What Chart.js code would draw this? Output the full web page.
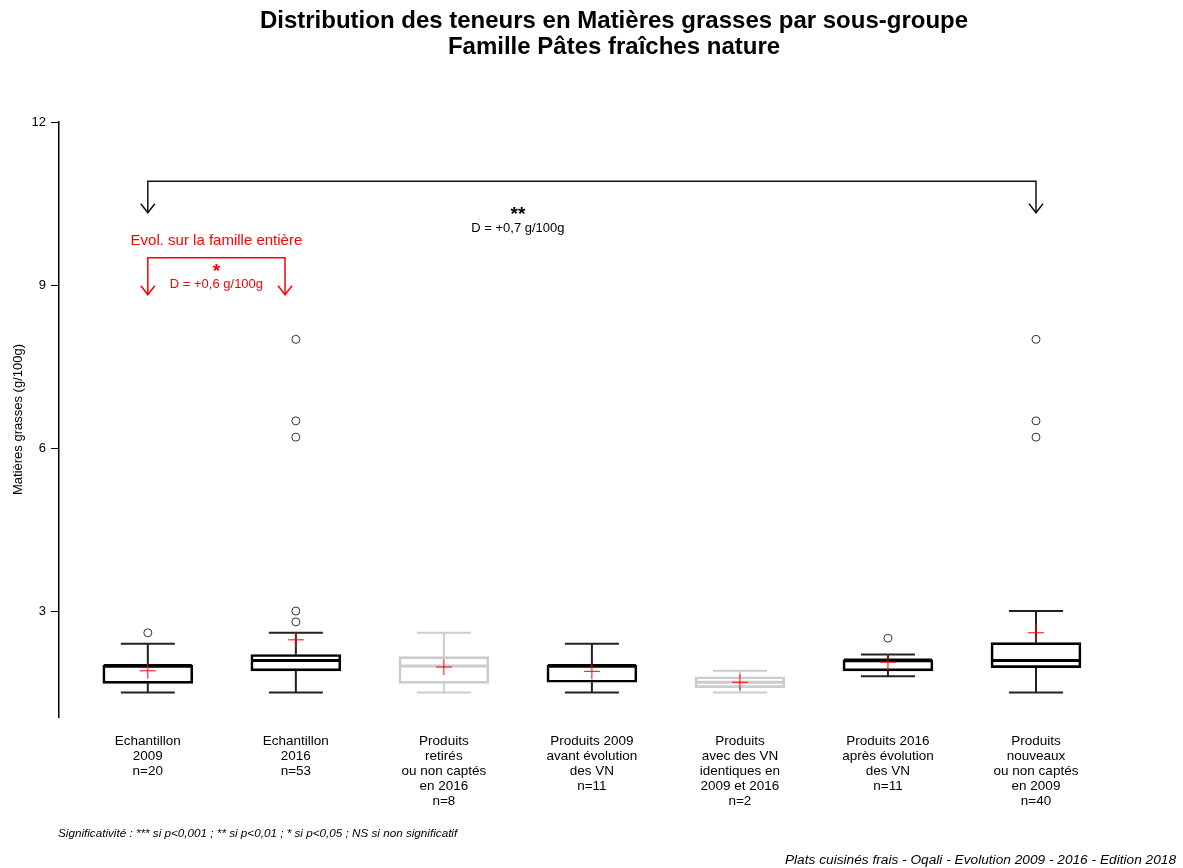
<!DOCTYPE html>
<html>
<head>
<meta charset="utf-8">
<script src="https://cdn.jsdelivr.net/npm/chart.js@4.4.1/dist/chart.umd.min.js"></script>
<style>
  html, body { margin: 0; padding: 0; background: #fff; }
  #wrap { width: 1183px; height: 868px; position: relative; }
</style>
</head>
<body>
<div id="wrap"><canvas id="c"></canvas></div>
<script>
// ---------------- DATA ----------------
const titleLines = ['Distribution des teneurs en Matières grasses par sous-groupe', 'Famille Pâtes fraîches nature'];
const yAxisTitle = 'Matières grasses (g/100g)';
const yTicks = [3, 6, 9, 12];
const categories = [
  ['Echantillon', '2009', 'n=20'],
  ['Echantillon', '2016', 'n=53'],
  ['Produits', 'retirés', 'ou non captés', 'en 2016', 'n=8'],
  ['Produits 2009', 'avant évolution', 'des VN', 'n=11'],
  ['Produits', 'avec des VN', 'identiques en', '2009 et 2016', 'n=2'],
  ['Produits 2016', 'après évolution', 'des VN', 'n=11'],
  ['Produits', 'nouveaux', 'ou non captés', 'en 2009', 'n=40']
];
const whiskerLow  = [1.5, 1.5, 1.5, 1.5, 1.5, 1.8, 1.5];
const q1          = [1.67, 1.9, 1.67, 1.69, 1.59, 1.9, 1.96];
const median      = [2.0, 2.09, 1.99, 2.0, 1.69, 2.1, 2.09];
const q3          = [2.0, 2.2, 2.16, 2.0, 1.79, 2.1, 2.42];
const whiskerHigh = [2.4, 2.6, 2.6, 2.4, 1.9, 2.2, 3.0];
const means       = [1.9, 2.47, 1.97, 1.89, 1.69, 2.06, 2.6];
const outliers    = [[2.6], [2.8, 3.0, 6.2, 6.5, 8.0], [], [], [], [2.5], [6.2, 6.5, 8.0]];
const globalTest = { stars: '**', text: 'D = +0,7 g/100g' };
const familyTest = { label: 'Evol. sur la famille entière', stars: '*', text: 'D = +0,6 g/100g' };
const footnote = 'Significativité : *** si p<0,001 ; ** si p<0,01 ; * si p<0,05 ; NS si non significatif';
const sourceNote = 'Plats cuisinés frais - Oqali - Evolution 2009 - 2016 - Edition 2018';

// ---------------- STYLE ----------------
const FONT = '"Liberation Sans", Arial, Helvetica, sans-serif';
const boxColors = ['#000000', '#000000', '#cccccc', '#000000', '#cccccc', '#000000', '#000000'];
const whiskerColors = ['#222222', '#222222', '#cccccc', '#222222', '#cccccc', '#222222', '#222222'];

const boxPlugin = {
  id: 'boxParts',
  beforeDatasetsDraw(chart) {
    const ctx = chart.ctx, xs = chart.scales.x, ys = chart.scales.y;
    ctx.save();
    categories.forEach((c, i) => {
      const x = xs.getPixelForValue(i + 1);
      const half = 27;
      ctx.strokeStyle = whiskerColors[i];
      ctx.lineWidth = 2;
      ctx.beginPath();
      ctx.moveTo(x, ys.getPixelForValue(q3[i]));
      ctx.lineTo(x, ys.getPixelForValue(whiskerHigh[i]));
      ctx.moveTo(x, ys.getPixelForValue(q1[i]));
      ctx.lineTo(x, ys.getPixelForValue(whiskerLow[i]));
      ctx.moveTo(x - half, ys.getPixelForValue(whiskerHigh[i]));
      ctx.lineTo(x + half, ys.getPixelForValue(whiskerHigh[i]));
      ctx.moveTo(x - half, ys.getPixelForValue(whiskerLow[i]));
      ctx.lineTo(x + half, ys.getPixelForValue(whiskerLow[i]));
      ctx.stroke();
    });
    ctx.restore();
  },
  afterDatasetDraw(chart, args) {
    if (args.index !== 0) return;
    const ctx = chart.ctx, xs = chart.scales.x, ys = chart.scales.y;
    ctx.save();
    categories.forEach((c, i) => {
      const x = xs.getPixelForValue(i + 1);
      const y = ys.getPixelForValue(median[i]);
      ctx.strokeStyle = boxColors[i];
      ctx.lineWidth = 3;
      ctx.beginPath();
      ctx.moveTo(x - 44, y);
      ctx.lineTo(x + 44, y);
      ctx.stroke();
    });
    ctx.restore();
  },
  afterDraw(chart) {
    const ctx = chart.ctx, xs = chart.scales.x, ys = chart.scales.y;
    ctx.save();
    const arrowDown = (x, y, col) => {
      ctx.strokeStyle = col;
      ctx.beginPath();
      ctx.moveTo(x - 7, y - 9);
      ctx.lineTo(x, y);
      ctx.lineTo(x + 7, y - 9);
      ctx.stroke();
    };
    // global bracket (black)
    const gx1 = xs.getPixelForValue(1), gx2 = xs.getPixelForValue(7);
    const gy = ys.getPixelForValue(10.91), gyb = ys.getPixelForValue(10.33);
    ctx.lineWidth = 1.5;
    ctx.strokeStyle = '#111';
    ctx.beginPath();
    ctx.moveTo(gx1, gyb); ctx.lineTo(gx1, gy); ctx.lineTo(gx2, gy); ctx.lineTo(gx2, gyb);
    ctx.stroke();
    arrowDown(gx1, gyb, '#111');
    arrowDown(gx2, gyb, '#111');
    ctx.fillStyle = '#000';
    ctx.textAlign = 'center';
    ctx.textBaseline = 'middle';
    const gtx = xs.getPixelForValue(3.5);
    ctx.font = 'bold 19px ' + FONT;
    ctx.fillText(globalTest.stars, gtx, ys.getPixelForValue(10.3));
    ctx.font = '13px ' + FONT;
    ctx.fillText(globalTest.text, gtx, ys.getPixelForValue(10.05));

    // family bracket (red)
    const rx1 = xs.getPixelForValue(1), rx2 = xs.getPixelForValue(1.927);
    const ry = ys.getPixelForValue(9.5), ryb = ys.getPixelForValue(8.82);
    ctx.strokeStyle = '#ff0000';
    ctx.beginPath();
    ctx.moveTo(rx1, ryb); ctx.lineTo(rx1, ry); ctx.lineTo(rx2, ry); ctx.lineTo(rx2, ryb);
    ctx.stroke();
    arrowDown(rx1, ryb, '#ff0000');
    arrowDown(rx2, ryb, '#ff0000');
    ctx.fillStyle = '#ff0000';
    const rtx = (rx1 + rx2) / 2;
    ctx.font = '15px ' + FONT;
    ctx.fillText(familyTest.label, rtx, ys.getPixelForValue(9.81));
    ctx.font = 'bold 19px ' + FONT;
    ctx.fillText(familyTest.stars, rtx, ys.getPixelForValue(9.24));
    ctx.font = '13px ' + FONT;
    ctx.fillText(familyTest.text, rtx, ys.getPixelForValue(9.02));

    // titles
    ctx.fillStyle = '#000';
    ctx.font = 'bold 24px ' + FONT;
    ctx.fillText(titleLines[0], 614, 21);
    ctx.fillText(titleLines[1], 614, 47);
    // footnotes
    ctx.font = 'italic 11.7px ' + FONT;
    ctx.textAlign = 'left';
    ctx.fillText(footnote, 58, 834);
    ctx.font = 'italic 13.7px ' + FONT;
    ctx.textAlign = 'right';
    ctx.fillText(sourceNote, 1176, 860);
    ctx.restore();
  }
};

const chart = new Chart(document.getElementById('c'), {
  type: 'bar',
  data: {
    datasets: [
      {
        type: 'bar',
        order: 3,
        data: categories.map((c, i) => ({ x: i + 1, y: [q1[i], q3[i]] })),
        backgroundColor: 'rgba(255,255,255,0)',
        borderColor: boxColors,
        borderWidth: 2,
        borderSkipped: false,
        barThickness: 90
      },
      {
        type: 'scatter',
        order: 2,
        data: outliers.flatMap((arr, i) => arr.map(v => ({ x: i + 1, y: v }))),
        pointStyle: 'circle',
        radius: 4,
        borderWidth: 1,
        borderColor: '#333',
        backgroundColor: 'rgba(0,0,0,0)'
      },
      {
        type: 'scatter',
        order: 1,
        data: means.map((v, i) => ({ x: i + 1, y: v })),
        pointStyle: 'cross',
        radius: 8,
        borderWidth: 1,
        borderColor: '#ff0000'
      }
    ]
  },
  options: {
    responsive: true,
    maintainAspectRatio: false,
    animation: false,
    layout: { padding: { top: 122, right: 73, bottom: 51, left: 0 } },
    plugins: { legend: { display: false }, tooltip: { enabled: false }, title: { display: false } },
    scales: {
      x: {
        type: 'linear',
        offset: false,
        min: 0.4,
        max: 7.5,
        grid: { display: false, drawTicks: false, offset: false },
        border: { display: false },
        afterBuildTicks: (s) => { s.ticks = categories.map((c, i) => ({ value: i + 1 })); },
        afterFit: (s) => { s.height = 100; },
        ticks: {
          autoSkip: false,
          maxRotation: 0,
          padding: 17,
          color: '#000',
          font: { family: FONT, size: 13.5, lineHeight: 15 / 13.5 },
          callback: (v) => categories[Math.round(v) - 1] || ''
        }
      },
      y: {
        min: 1.05,
        max: 12,
        afterBuildTicks: (s) => { s.ticks = yTicks.map(v => ({ value: v })); },
        afterFit: (s) => { s.width = 59; },
        grid: { display: true, drawOnChartArea: false, drawTicks: true, tickLength: 8, color: '#000', lineWidth: 1 },
        border: { display: true, color: '#000', width: 1.5 },
        ticks: { color: '#000', padding: 5, font: { family: FONT, size: 13 } },
        title: { display: true, text: yAxisTitle, color: '#000', font: { family: FONT, size: 13 }, padding: { top: 11, bottom: 0 } }
      }
    }
  },
  plugins: [boxPlugin]
});
</script>
</body>
</html>
